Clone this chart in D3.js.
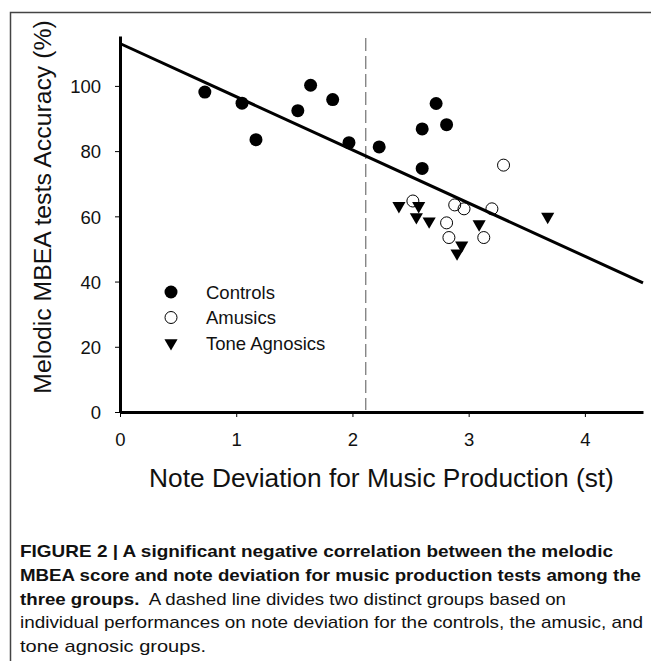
<!DOCTYPE html>
<html>
<head>
<meta charset="utf-8">
<script src="https://cdn.jsdelivr.net/npm/d3@7"></script>
<style>
  body { margin: 0; background: #fff; }
  svg { display: block; font-family: "Liberation Sans", Arial, Helvetica, sans-serif; }
  .cap { font-family: "Liberation Sans Narrow", "Liberation Sans", Arial, sans-serif; font-size: 17px; }
</style>
</head>
<body>
<div id="chart"></div>
<script>
// note deviation (st) vs melodic MBEA accuracy (%)
const controlsX = [0.73, 1.05, 1.17, 1.53, 1.64, 1.83, 1.97, 2.23, 2.72, 2.60, 2.81, 2.60];
const controlsY = [98.1, 94.7, 83.5, 92.4, 100.2, 95.8, 82.6, 81.3, 94.6, 86.8, 88.1, 74.7];

const amusicsX = [3.30, 2.52, 2.88, 2.96, 3.20, 2.81, 2.83, 3.13];
const amusicsY = [75.7, 64.7, 63.5, 62.3, 62.3, 58.0, 53.5, 53.5];

const agnosicsX = [2.40, 2.57, 2.55, 2.66, 3.09, 3.68, 2.94, 2.90];
const agnosicsY = [63.2, 63.2, 59.8, 58.5, 57.6, 59.9, 51.1, 48.7];

const fitX = [0, 4.5];
const fitY = [113, 39.6];
const divideX = 2.115;

const xTicks = [0, 1, 2, 3, 4];
const yTicks = [0, 20, 40, 60, 80, 100];
const legendNames = ["Controls", "Amusics", "Tone Agnosics"];

const captionLines = [
  [{ t: "FIGURE 2 | A significant negative correlation between the melodic", b: true }],
  [{ t: "MBEA score and note deviation for music production tests among the", b: true }],
  [{ t: "three groups.", b: true }, { t: "  A dashed line divides two distinct groups based on", b: false }],
  [{ t: "individual performances on note deviation for the controls, the amusic, and", b: false }],
  [{ t: "tone agnosic groups.", b: false }]
];
const captionWidths = [593, 621, 546, 623, 186];

const W = 651, H = 661;
const margin = { left: 120, right: 643, top: 36, bottom: 412 };

const svg = d3.select("#chart").append("svg")
  .attr("width", W).attr("height", H);

// frame
svg.append("path")
  .attr("d", `M10.5,${H} L10.5,12.5 L${W},12.5`)
  .attr("fill", "none").attr("stroke", "#444").attr("stroke-width", 1.5);

const x = d3.scaleLinear().domain([0, 4.5]).range([margin.left, margin.right]);
const y = d3.scaleLinear().domain([0, 115.3]).range([margin.bottom, margin.top]);

// axes
const xAxis = svg.append("g")
  .attr("transform", `translate(0, ${margin.bottom})`)
  .call(d3.axisBottom(x).tickValues(xTicks).tickSize(5).tickPadding(16).tickSizeOuter(0).tickFormat(d3.format("d")));
const yAxis = svg.append("g")
  .attr("transform", `translate(${margin.left}, 0)`)
  .call(d3.axisLeft(y).tickValues(yTicks).tickSize(5).tickPadding(14).tickSizeOuter(0));

[xAxis, yAxis].forEach(g => {
  g.select(".domain").attr("stroke", "#000").attr("stroke-width", 3);
  g.selectAll(".tick line").attr("stroke", "#000").attr("stroke-width", 1);
  g.selectAll(".tick text").attr("font-size", 18.5).attr("font-family", null).attr("fill", "#111");
});
yAxis.selectAll(".tick text").attr("dy", "0.36em");

// dashed divider
svg.append("line")
  .attr("x1", x(divideX)).attr("x2", x(divideX))
  .attr("y1", 38).attr("y2", margin.bottom - 2)
  .attr("stroke", "#555").attr("stroke-width", 1)
  .attr("stroke-dasharray", "13,5");

// regression line
svg.append("line")
  .attr("x1", x(fitX[0])).attr("y1", y(fitY[0]))
  .attr("x2", x(fitX[1])).attr("y2", y(fitY[1]))
  .attr("stroke", "#000").attr("stroke-width", 3);

const tri = d3.symbol().type(d3.symbolTriangle).size(75);

// points
svg.append("g").selectAll("circle")
  .data(controlsX.map((d, i) => [d, controlsY[i]]))
  .join("circle")
  .attr("cx", d => x(d[0])).attr("cy", d => y(d[1]))
  .attr("r", 6.5).attr("fill", "#000");

svg.append("g").selectAll("circle")
  .data(amusicsX.map((d, i) => [d, amusicsY[i]]))
  .join("circle")
  .attr("cx", d => x(d[0])).attr("cy", d => y(d[1]))
  .attr("r", 6).attr("fill", "none").attr("stroke", "#000").attr("stroke-width", 1);

svg.append("g").selectAll("path")
  .data(agnosicsX.map((d, i) => [d, agnosicsY[i]]))
  .join("path")
  .attr("d", tri)
  .attr("transform", d => `translate(${x(d[0])}, ${y(d[1])}) rotate(180)`)
  .attr("fill", "#000");

// legend
const leg = svg.append("g").attr("transform", "translate(171, 292)");
legendNames.forEach((name, i) => {
  const g = leg.append("g").attr("transform", `translate(0, ${i * 25.5})`);
  if (i === 0) g.append("circle").attr("r", 6.5).attr("fill", "#000");
  if (i === 1) g.append("circle").attr("r", 6).attr("fill", "none").attr("stroke", "#000");
  if (i === 2) g.append("path").attr("d", tri).attr("transform", "rotate(180)").attr("fill", "#000");
  g.append("text").attr("x", 35).attr("y", 6.5)
    .attr("font-size", 18.5).attr("fill", "#111").text(name);
});

// axis titles
svg.append("text")
  .attr("x", (margin.left + margin.right) / 2).attr("y", 487)
  .attr("text-anchor", "middle").attr("font-size", 26.3).attr("fill", "#111")
  .text("Note Deviation for Music Production (st)");

svg.append("text")
  .attr("transform", `translate(51, 207) rotate(-90)`)
  .attr("text-anchor", "middle").attr("font-size", 24.8).attr("fill", "#111")
  .text("Melodic MBEA tests Accuracy (%)");

// caption
captionLines.forEach((parts, i) => {
  const t = svg.append("text").attr("class", "cap")
    .attr("x", 20).attr("y", 557 + i * 23.8)
    .attr("fill", "#111")
    .attr("textLength", captionWidths[i]).attr("lengthAdjust", "spacingAndGlyphs")
    .attr("xml:space", "preserve");
  parts.forEach(p => t.append("tspan").attr("font-weight", p.b ? "bold" : "normal").text(p.t));
});
</script>
</body>
</html>
